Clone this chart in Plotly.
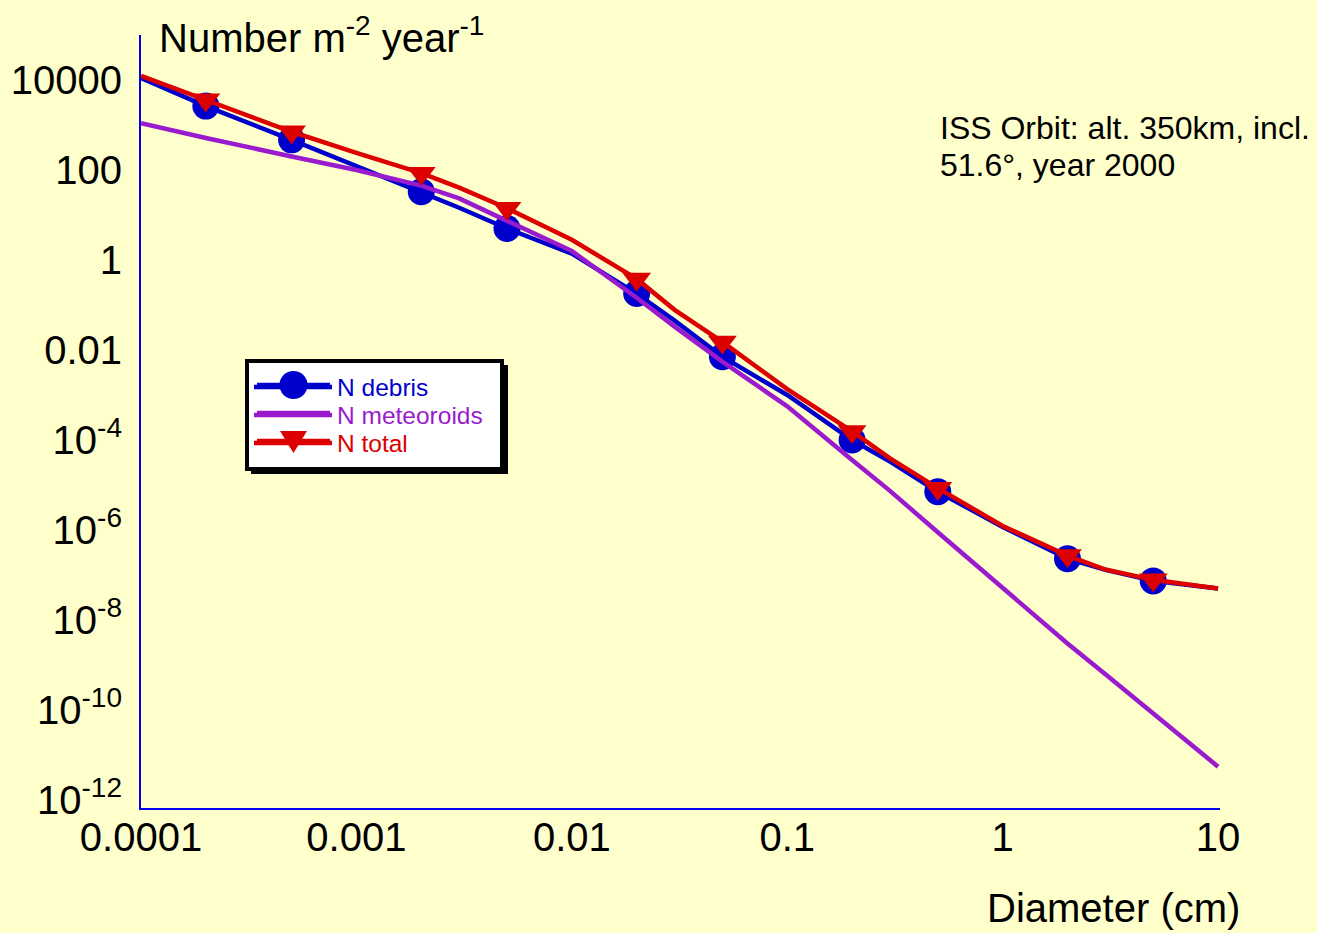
import plotly.graph_objects as go

# Diameter (cm)
diameter = [1e-4, 2e-4, 5e-4, 1e-3, 2e-3, 3e-3, 5e-3, 1e-2, 2e-2, 3e-2, 5e-2,
            0.1, 0.2, 0.3, 0.5, 1, 2, 3, 5, 10]
# Flux, number per m^2 per year
n_debris = [1.1e4, 2630, 468, 123, 33, 14.5, 5.0, 1.38, 0.18, 0.045, 7.1e-3,
            1.0e-3, 1.0e-4, 3.3e-5, 7.1e-6, 1.17e-6, 2.3e-7, 1.3e-7, 7.4e-8, 5.0e-8]
n_meteoroids = [1.1e3, 513, 200, 100, 45, 23.4, 7.4, 1.58, 0.145, 0.033, 5.5e-3,
                5.6e-4, 3.6e-5, 7.4e-6, 8.9e-7, 5.0e-8, 3.0e-9, 6.2e-10, 8.1e-11, 5.5e-12]
n_total = [1.23e4, 3630, 708, 240, 85, 40.7, 14.1, 2.82, 0.38, 0.078, 0.0151,
           1.35e-3, 1.55e-4, 3.9e-5, 8.5e-6, 1.23e-6, 2.7e-7, 1.32e-7, 7.8e-8, 5.0e-8]
# sizes at which a marker is drawn
marker_diameters = [2e-4, 5e-4, 2e-3, 5e-3, 2e-2, 5e-2, 0.2, 0.5, 2, 5]

x_tickvals = [1e-4, 1e-3, 1e-2, 1e-1, 1, 10]
x_ticktext = ["0.0001", "0.001", "0.01", "0.1", "1", "10"]
y_tickvals = [1e4, 1e2, 1, 1e-2, 1e-4, 1e-6, 1e-8, 1e-10, 1e-12]
y_ticktext = ["10000", "100", "1", "0.01", "10<sup>-4</sup>", "10<sup>-6</sup>",
              "10<sup>-8</sup>", "10<sup>-10</sup>", "10<sup>-12</sup>"]

BLUE = "#0000CC"
PURPLE = "#9A1ACD"
RED = "#DD0000"
BG = "#FFFFCC"
FONT = "Liberation Sans, Arial, sans-serif"
BIG = 40


def pick(xs, ys, keep):
    px, py = [], []
    for a, b in zip(xs, ys):
        if any(abs(a - k) / k < 1e-9 for k in keep):
            px.append(a)
            py.append(b)
    return px, py


fig = go.Figure()

# debris
fig.add_trace(go.Scatter(x=diameter, y=n_debris, mode="lines",
                         line=dict(color=BLUE, width=4.5), showlegend=False))
mx, my = pick(diameter, n_debris, marker_diameters)
fig.add_trace(go.Scatter(x=mx, y=my, mode="markers",
                         marker=dict(symbol="circle", size=27, color=BLUE),
                         showlegend=False))
# meteoroids
fig.add_trace(go.Scatter(x=diameter, y=n_meteoroids, mode="lines",
                         line=dict(color=PURPLE, width=4.5), showlegend=False))
# total
fig.add_trace(go.Scatter(x=diameter, y=n_total, mode="lines",
                         line=dict(color=RED, width=4.5), showlegend=False))
mx, my = pick(diameter, n_total, marker_diameters)
fig.add_trace(go.Scatter(x=mx, y=my, mode="markers",
                         marker=dict(symbol="triangle-down", size=25, color=RED),
                         showlegend=False))

# legend entries (one legend per row so rows can be placed exactly)
fig.add_trace(go.Scatter(x=[None], y=[None], mode="lines+markers",
                         name=f"<span style='color:{BLUE}'>N debris</span>",
                         line=dict(color=BLUE, width=4.5), legend="legend",
                         marker=dict(symbol="circle", size=27, color=BLUE)))
fig.add_trace(go.Scatter(x=[None], y=[None], mode="lines",
                         name=f"<span style='color:{PURPLE}'>N meteoroids</span>",
                         line=dict(color=PURPLE, width=4.5), legend="legend2"))
fig.add_trace(go.Scatter(x=[None], y=[None], mode="lines+markers",
                         name=f"<span style='color:{RED}'>N total</span>",
                         line=dict(color=RED, width=4.5), legend="legend3",
                         marker=dict(symbol="triangle-down", size=25, color=RED)))

L, R, T, B = 141, 97, 35, 125
W, H = 1317, 933
pw, ph = W - L - R, H - T - B


def px2x(p):
    return (p - L) / pw


def px2y(p):
    return (H - B - p) / ph


def leg(ypix):
    return dict(x=px2x(249), y=px2y(ypix), xanchor="left", yanchor="middle",
                bgcolor="rgba(0,0,0,0)", borderwidth=0, itemwidth=78,
                font=dict(size=24.5, family=FONT))


tri = (f"M {px2x(280)},{px2y(431)} L {px2x(307)},{px2y(431)} "
       f"L {px2x(293.5)},{px2y(453)} Z")

fig.update_layout(
    width=W, height=H,
    margin=dict(l=L, r=R, t=T, b=B),
    paper_bgcolor=BG, plot_bgcolor=BG,
    font=dict(family=FONT, color="black", size=BIG),
    xaxis=dict(type="log", range=[-4, 1.009], tickvals=x_tickvals, ticktext=x_ticktext,
               showgrid=False, zeroline=False, showline=True, linecolor="#0000EE",
               linewidth=2, ticks="", ticklabelstandoff=-7,
               tickfont=dict(size=BIG, family=FONT, color="black")),
    yaxis=dict(type="log", range=[-12.178, 5], tickvals=y_tickvals, ticktext=y_ticktext,
               showgrid=False, zeroline=False, showline=True, linecolor="#0000EE",
               linewidth=2, ticks="", ticklabelstandoff=9,
               tickfont=dict(size=BIG, family=FONT, color="black")),
    legend=leg(387),
    legend2=leg(415),
    legend3=leg(443),
    shapes=[
        dict(type="rect", xref="paper", yref="paper",
             x0=px2x(251), x1=px2x(508), y0=px2y(474), y1=px2y(365),
             fillcolor="black", line=dict(width=0), layer="above"),
        dict(type="rect", xref="paper", yref="paper",
             x0=px2x(247), x1=px2x(502), y0=px2y(469), y1=px2y(361),
             fillcolor="white", line=dict(color="black", width=4), layer="above"),
        # long legend line samples and full-size legend symbols like the original
        dict(type="line", xref="paper", yref="paper", x0=px2x(257), x1=px2x(330),
             y0=px2y(385), y1=px2y(385), line=dict(color=BLUE, width=4.5), layer="above"),
        dict(type="line", xref="paper", yref="paper", x0=px2x(257), x1=px2x(330),
             y0=px2y(413), y1=px2y(413), line=dict(color=PURPLE, width=4.5), layer="above"),
        dict(type="line", xref="paper", yref="paper", x0=px2x(257), x1=px2x(330),
             y0=px2y(441), y1=px2y(441), line=dict(color=RED, width=4.5), layer="above"),
        dict(type="circle", xref="paper", yref="paper", x0=px2x(279.5), x1=px2x(307.5),
             y0=px2y(399), y1=px2y(371), fillcolor=BLUE, line=dict(width=0),
             layer="above"),
        dict(type="path", xref="paper", yref="paper", path=tri, fillcolor=RED,
             line=dict(width=0), layer="above"),
    ],
    annotations=[
        dict(text="Number m<sup>-2</sup> year<sup>-1</sup>", xref="paper", yref="paper",
             x=px2x(157), y=px2y(35), xanchor="left", yanchor="middle",
             showarrow=False, font=dict(size=BIG, family=FONT, color="black")),
        dict(text="Diameter (cm)", xref="paper", yref="paper",
             x=px2x(1242), y=px2y(908), xanchor="right", yanchor="middle",
             showarrow=False, font=dict(size=BIG, family=FONT, color="black")),
        dict(text="ISS Orbit: alt. 350km, incl.", xref="paper", yref="paper",
             x=px2x(938), y=px2y(128), xanchor="left", yanchor="middle",
             showarrow=False, font=dict(size=32, family=FONT, color="black")),
        dict(text="51.6°, year 2000", xref="paper", yref="paper",
             x=px2x(938), y=px2y(165), xanchor="left", yanchor="middle",
             showarrow=False, font=dict(size=32, family=FONT, color="black")),
    ],
)

fig.write_html(
    "out.html",
    config={"displayModeBar": False},
    post_script="document.body.style.margin='0';document.body.style.background='#FFFFCC';",
)
